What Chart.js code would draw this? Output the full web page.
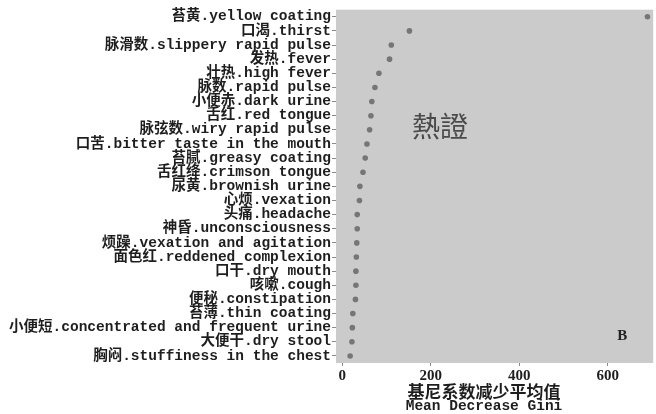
<!DOCTYPE html>
<html>
<head>
<meta charset="utf-8">
<style>
  html, body { margin: 0; padding: 0; background: #ffffff; }
  #wrap { width: 656px; height: 414px; position: relative; }
</style>
<script src="https://cdn.jsdelivr.net/npm/chart.js@4/dist/chart.umd.min.js"></script>
</head>
<body>
<div id="wrap"><canvas id="c" width="656" height="414"></canvas></div>
<script>
// Symptoms ranked by importance (top to bottom)
const symptoms = [
  "苔黄.yellow coating",
  "口渴.thirst",
  "脉滑数.slippery rapid pulse",
  "发热.fever",
  "壮热.high fever",
  "脉数.rapid pulse",
  "小便赤.dark urine",
  "舌红.red tongue",
  "脉弦数.wiry rapid pulse",
  "口苦.bitter taste in the mouth",
  "苔腻.greasy coating",
  "舌红绛.crimson tongue",
  "尿黄.brownish urine",
  "心烦.vexation",
  "头痛.headache",
  "神昏.unconsciousness",
  "烦躁.vexation and agitation",
  "面色红.reddened complexion",
  "口干.dry mouth",
  "咳嗽.cough",
  "便秘.constipation",
  "苔薄.thin coating",
  "小便短.concentrated and frequent urine",
  "大便干.dry stool",
  "胸闷.stuffiness in the chest"
];

// Mean decrease in Gini for each symptom
const meanDecreaseGini = [
  690, 152, 111, 107, 83, 74, 67, 65, 62, 56,
  52, 47, 40, 39, 34, 34, 33, 32, 31, 31,
  30, 24, 23, 22, 18
];

const xTicks = [0, 200, 400, 600];
const xMin = -14;
const xMax = 703;

const panelText = "熱證";
const panelLetter = "B";
const xTitleZh = "基尼系数减少平均值";
const xTitleEn = "Mean Decrease Gini";

const labelFont = "'Liberation Mono', 'Noto Sans CJK SC', monospace";

// Grey panel behind the dots plus the panel annotations and axis titles
const panelPlugin = {
  id: 'panel',
  beforeDraw(chart) {
    const { ctx, chartArea: a } = chart;
    ctx.save();
    ctx.fillStyle = '#ffffff';
    ctx.fillRect(0, 0, chart.width, chart.height);
    ctx.fillStyle = '#cbcbcb';
    ctx.fillRect(a.left, a.top, a.right - a.left, a.bottom - a.top);
    ctx.restore();
  },
  afterDraw(chart) {
    const { ctx, chartArea: a } = chart;
    ctx.save();
    ctx.textBaseline = 'middle';

    ctx.fillStyle = '#4a4a4a';
    ctx.font = "28px 'Noto Sans CJK TC', 'Noto Sans CJK SC', sans-serif";
    ctx.textAlign = 'left';
    ctx.fillText(panelText, a.left + 76, a.top + 117);

    ctx.fillStyle = '#222222';
    ctx.font = "bold 15px 'Liberation Serif', serif";
    ctx.textAlign = 'center';
    ctx.fillText(panelLetter, a.right - 31, a.bottom - 27);

    const cx = a.left + 148;
    ctx.fillStyle = '#1e1e1e';
    ctx.font = "bold 17px 'Noto Sans CJK SC', serif";
    ctx.fillText(xTitleZh, cx, a.bottom + 29);
    ctx.font = "bold 14.5px 'Liberation Mono', monospace";
    ctx.fillText(xTitleEn, cx, a.bottom + 43);
    ctx.restore();
  }
};

new Chart(document.getElementById('c'), {
  type: 'line',
  data: {
    labels: symptoms,
    datasets: [{
      data: meanDecreaseGini,
      showLine: false,
      pointRadius: 2.8,
      pointHoverRadius: 2.8,
      pointBackgroundColor: '#767676',
      pointBorderColor: '#767676',
      pointBorderWidth: 0
    }]
  },
  options: {
    indexAxis: 'y',
    responsive: false,
    animation: false,
    devicePixelRatio: 1,
    layout: { padding: { top: 7, right: 0, bottom: 0, left: 0 } },
    plugins: {
      legend: { display: false },
      tooltip: { enabled: false },
      title: { display: false }
    },
    scales: {
      x: {
        type: 'linear',
        min: xMin,
        max: xMax,
        afterBuildTicks(scale) {
          scale.ticks = xTicks.map(v => ({ value: v }));
        },
        afterFit(scale) { scale.height = 51; },
        grid: {
          drawOnChartArea: false,
          drawTicks: true,
          tickLength: 3,
          color: '#8a8a8a'
        },
        border: { display: false },
        ticks: {
          padding: 1,
          color: '#1e1e1e',
          font: { family: "'Liberation Serif', serif", size: 15, weight: 'bold' }
        }
      },
      y: {
        type: 'category',
        offset: true,
        afterFit(scale) { scale.width = 336; },
        grid: {
          drawOnChartArea: false,
          drawTicks: true,
          tickLength: 4,
          color: '#8a8a8a',
          offset: false
        },
        border: { display: false },
        ticks: {
          autoSkip: false,
          padding: 1,
          color: '#1e1e1e',
          font: { family: labelFont, size: 14.5, weight: 'bold' }
        }
      }
    }
  },
  plugins: [panelPlugin]
});
</script>
</body>
</html>
